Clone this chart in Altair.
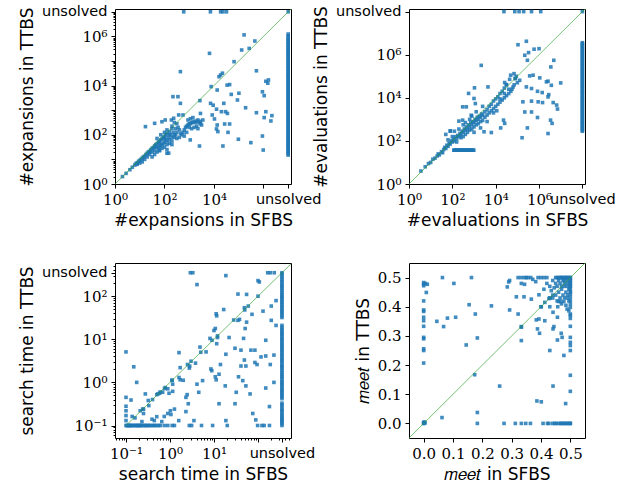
import altair as alt
import pandas as pd

BLUE = "#1f77b4"
GREEN = "#2ca02c"
SERIF = "DejaVu Serif"
SANS = "DejaVu Sans"

# ---------------- Panel 1: #expansions ----------------
EXP_UNSOLVED = 1e7
exp_top_x = [600, 7200, 18600, 23000, 32000]          # TTBS unsolved
exp_col_y = [15, 17, 19, 22, 25, 28, 32, 36, 41, 46, 52, 60, 68, 77, 88, 100, 115, 130,
             150, 170, 195, 220, 250, 290, 330, 380, 430, 490, 560, 640, 730, 830, 950,
             1100, 1250, 1400, 1600, 1850, 2100, 2400, 2750, 3100, 3600, 4100, 4700, 5400,
             6200, 7000, 8000, 9200, 10500, 12000, 14000, 16000, 18000, 21000, 24000,
             27000, 31000, 36000, 41000, 47000, 54000, 62000, 71000, 82000, 94000, 110000,
             125000, 145000, 165000, 190000, 220000, 250000, 290000, 330000, 380000,
             440000, 500000, 580000, 670000, 770000, 900000, 1050000, 1250000]  # SFBS unsolved
exp_pts = [
    (440, 37000), (6600, 205000), (165000, 1150000), (450000, 650000), (265000, 325000),
    (132000, 280000), (65000, 94000), (520000, 40000), (1250000, 15000), (1500000, 12500),
    (1600000, 17000), (18500, 27000), (16000, 23000), (22000, 32000), (7700, 9100),
    (34000, 10500), (43000, 11000), (13500, 6600), (102000, 4900), (50000, 4400),
    (910000, 5600), (1070000, 3900), (89000, 2600), (7300, 1900), (2700, 2450), (220, 3550),
    (350, 3550), (440, 1900), (9300, 1600), (12700, 1100), (25000, 1900), (29500, 870),
    (20000, 870), (35000, 740), (190000, 1260), (520000, 790), (1250000, 870), (1070000, 500),
    (2200000, 600), (2000000, 365), (43000, 275), (27000, 275), (13500, 250), (12600, 173),
    (14400, 135), (37000, 126), (10500, 440), (8500, 640), (97000, 66), (310000, 48),
    (910000, 89), (980000, 24), (23000, 35), (2600, 35), (1100, 62), (148, 18), (17, 215),
    (40, 293), (79, 340), (107, 400), (190, 400), (235, 470), (375, 640), (560, 640), (2850, 740),
    (500, 100), (560, 126), (630, 158), (710, 200), (790, 224), (890, 250), (1000, 282),
    (1120, 282), (1260, 316), (1410, 316), (1580, 355), (1780, 316), (2000, 355), (2240, 400),
    (2500, 316), (2820, 282), (3160, 250), (2000, 224), (1580, 200), (1260, 178), (1000, 200),
    (790, 126), (630, 89), (400, 79), (316, 71), (447, 112), (2240, 178), (2820, 355),
    (3550, 400), (890, 400), (1120, 447), (1410, 500),
    (2, 2), (2.8, 2.7), (4, 3.8), (5, 4.8), (6.3, 5.9), (7.1, 6.8), (7.9, 7.2), (8.9, 8.3),
    (10, 9.1), (11.2, 10), (12.6, 11.2), (14.1, 12.6), (15.8, 13.5), (17.8, 15.8), (20, 17.8),
    (22.4, 20), (25, 21.4), (28.2, 25), (31.6, 28.2), (35.5, 30.2), (40, 35.5), (44.7, 40),
    (50, 42.7), (56, 50), (63, 52.5), (71, 63), (79, 67.6), (89, 79), (100, 85), (112, 100),
    (126, 112), (158, 132), (200, 178),
    (15.8, 10), (20, 12.6), (25, 15.8), (31.6, 20), (40, 22.4), (50, 31.6), (63, 35.5),
    (79, 40), (100, 50), (126, 56), (158, 63), (200, 79), (250, 100), (100, 31.6), (126, 40),
    (79, 28.2), (158, 44.7), (200, 56), (31.6, 12.6), (40, 15.8), (50, 20), (63, 22.4),
    (316, 126), (250, 79), (158, 100), (100, 71), (63, 50), (40, 31.6), (25, 20), (12.6, 7.9),
    (10, 7.1), (7.9, 6.3), (126, 158), (100, 126), (71, 100), (50, 71), (200, 224), (250, 316),
    (316, 282), (355, 200), (400, 158), (282, 178), (71, 35.5), (89, 44.7), (112, 63),
    (141, 79), (56, 28.2), (178, 100), (224, 126), (282, 100), (200, 40), (126, 25),
    (126, 17.8), (63, 24),
]

# ---------------- Panel 2: #evaluations ----------------
EVA_UNSOLVED = 1e8
eva_top_x = [24000, 76000, 120000, 195000, 450000, 1200000]
eva_col_y = [280, 320, 370, 420, 480, 550, 630, 720, 830, 950, 1100, 1250, 1450, 1650, 1900,
             2200, 2500, 2850, 3300, 3800, 4300, 5000, 5700, 6500, 7500, 8600, 9800, 11000,
             13000, 15000, 17000, 19500, 22000, 26000, 30000, 34000, 39000, 45000, 51000,
             59000, 68000, 78000, 90000, 103000, 118000, 135000, 155000, 180000, 205000,
             235000, 270000, 310000, 360000, 410000, 470000, 540000, 620000, 710000, 820000,
             940000, 1080000, 1240000, 1420000, 1630000, 1870000, 2150000, 2470000, 2840000,
             3260000, 3600000]
eva_flat_x = [117, 125, 135, 145, 155, 165, 180, 195, 210, 225, 245, 265, 285, 310, 335, 360,
              390, 420, 460, 500, 540, 590, 640, 700, 760, 830, 900, 980]
eva_flat_y = 37
eva_pts = [
    (2150, 320000), (107000, 2900000), (260000, 4200000), (330000, 1250000), (590000, 1800000),
    (1000000, 1900000), (220000, 940000), (290000, 550000), (4800000, 550000),
    (3500000, 270000), (70000, 132000), (49000, 112000), (44000, 72000), (81000, 78000),
    (128000, 65000), (370000, 104000), (530000, 112000), (1080000, 84000), (2600000, 59000),
    (3700000, 38000), (10000000, 49000), (2200000, 55000), (260000, 32000), (450000, 27000),
    (850000, 20000), (1400000, 17500), (2800000, 14000), (2600000, 11000), (180000, 6500),
    (450000, 7000), (910000, 6500), (1450000, 6000), (4500000, 6000), (6500000, 4600),
    (7100000, 3000), (220000, 2200), (450000, 2200), (850000, 1220), (3400000, 920),
    (4000000, 650), (2600000, 220), (290000, 400), (165000, 140), (17000, 400), (26000, 650),
    (23000, 920), (2900, 265), (6300, 245), (1050, 29000), (560, 16000), (1000, 9300),
    (1150, 5400), (300, 3800), (440, 3800), (200, 830), (300, 920), (82, 295), (125, 280),
    (740, 1550), (4400, 32000), (26000, 51000), (31000, 41000),
    (3.55, 4), (5.6, 6.3), (7.9, 8.9), (10, 10), (12.6, 14.1), (15.8, 15.8), (20, 20),
    (22.4, 25), (25, 22.4), (31.6, 31.6), (35.5, 28.2), (40, 40), (44.7, 50), (50, 44.7),
    (56, 63), (63, 56), (71, 79), (79, 71), (89, 100), (100, 89), (112, 126), (126, 100),
    (141, 158), (158, 126), (178, 178), (200, 158), (224, 224), (250, 200), (282, 282),
    (316, 250), (355, 355), (400, 316), (447, 447), (500, 355), (560, 560), (630, 447),
    (710, 710), (790, 560), (890, 790), (1000, 710), (1120, 1000), (1260, 890), (1410, 1260),
    (1580, 1000), (1780, 1410), (2000, 1260), (2240, 1780), (2500, 1580), (3160, 2240),
    (4000, 2820), (5000, 4000), (6300, 5000), (7900, 7100), (10000, 8900), (12600, 11200),
    (15800, 15800), (20000, 20000), (25000, 28200), (31600, 40000),
    (158, 89), (250, 141), (400, 200), (630, 316), (1000, 447), (1580, 630), (2500, 890),
    (316, 158), (500, 250), (790, 355), (1260, 560), (2000, 790), (3160, 1260), (4000, 1580),
    (5000, 2000), (6300, 2500), (7900, 3160), (10000, 4000), (12600, 5000), (15800, 6300),
    (20000, 7900), (25000, 10000), (31600, 12600), (40000, 15800), (50000, 20000),
    (56000, 25000), (63000, 31600), (71000, 40000), (15800, 8900), (25000, 15800),
    (40000, 25000), (2000, 400), (4000, 790), (7900, 2000), (11200, 2500), (1000, 250),
    (100, 158), (200, 355), (400, 710), (790, 1410), (1260, 2240), (2500, 4000), (63, 112),
    (316, 560), (630, 1000), (79, 282), (50, 200), (79000, 79000), (100000, 50000),
    (89000, 100000),
]

# ---------------- Panel 3: search time ----------------
TIME_UNSOLVED = 350
time_top_x = [2.9, 3.3, 166, 190, 234]
time_col_y = [0.1, 0.11, 0.12, 0.13, 0.14, 0.15, 0.165, 0.18, 0.2, 0.22, 0.24, 0.27, 0.3,
              0.33, 0.42, 0.46, 0.5, 0.55, 0.6, 0.66, 0.72, 0.8, 0.88, 0.96, 1.05, 1.15, 1.3,
              1.4, 1.55, 1.7, 1.9, 2.1, 2.3, 2.5, 2.8, 3.1, 3.4, 3.7, 4.1, 4.5, 5.0, 5.5, 6.0,
              6.6, 7.3, 8.0, 8.8, 9.7, 10.6, 11.7, 13, 14, 15.5, 17, 19, 21, 32, 35, 39, 43,
              47, 52, 57, 63, 70, 77, 85, 93, 100, 110, 122, 135, 150, 165, 180, 200, 220, 245,
              270, 300, 330]
time_bottom_x = [0.1, 0.105, 0.11, 0.115, 0.12, 0.125, 0.13, 0.14, 0.15, 0.16, 0.17, 0.18,
                 0.19, 0.2, 0.21, 0.22, 0.24, 0.26, 0.28, 0.3, 0.32, 0.35, 0.38, 0.42, 0.45,
                 0.5, 0.55, 0.6, 0.74, 0.89, 1.12, 1.26, 2.75, 3.1, 5.2, 9.3, 20, 98, 123, 138,
                 182]
time_bottom_y = 0.1
time_pts = [
    (4.1, 186), (18.6, 300), (100, 230), (107, 214), (35, 112), (55, 110), (257, 79), (49, 54),
    (60, 59), (73, 38), (130, 45), (200, 59), (16.6, 49), (11.2, 39), (11.5, 35), (35, 27.5),
    (38, 29), (55, 25), (200, 27.5), (257, 21), (10.7, 17.8), (10, 16), (51, 17.8), (8.1, 10.5),
    (12, 11), (22, 11), (47, 10.5), (150, 9.5), (11.5, 7.9), (4.8, 6.6), (0.1, 5.1), (1.6, 4.9),
    (6.6, 5.1), (18.6, 4.5), (30, 6.2), (41, 5.6), (69, 5.6), (85, 5.6), (150, 4.1), (230, 4.3),
    (117, 3.9), (49, 3.3), (85, 2.9), (95, 2.6), (190, 2.6), (41, 2.4), (53, 2.4), (14, 2.6),
    (3.8, 2.8), (2.8, 2.4), (2.75, 2.15), (1.7, 2.2), (0.15, 2.3), (8.5, 2.05), (8.9, 1.87),
    (13, 1.55), (10.7, 1.35), (11.2, 1.15), (36, 1.35), (45, 1.1), (53, 0.83), (230, 1.0),
    (150, 0.74), (32, 0.59), (66, 0.54), (18, 0.83), (5.5, 1.1), (4.5, 0.59), (4.1, 0.91),
    (1.6, 1.3), (1.7, 1.15), (2.0, 1.12), (1.12, 1.12), (1.15, 0.91), (0.89, 0.71),
    (1.15, 0.62), (0.95, 0.56), (0.78, 0.76), (0.68, 0.59), (0.58, 0.56), (0.53, 0.54),
    (0.275, 0.54), (0.13, 0.39), (0.175, 1.0), (0.1, 0.45), (0.1, 0.28), (0.1, 0.22),
    (0.1, 0.17), (0.1, 0.13), (0.138, 0.162), (0.21, 0.22), (0.24, 0.24), (0.25, 0.19),
    (0.23, 0.123), (0.32, 0.38), (0.33, 0.29), (0.39, 0.14), (0.44, 0.13), (0.5, 0.16),
    (0.65, 0.123), (0.74, 0.162), (0.89, 0.19), (1.05, 0.18), (1.02, 0.22), (1.26, 0.24),
    (1.58, 0.13), (2.3, 0.21), (2.6, 0.32), (2.3, 0.45), (2.45, 0.52), (3.5, 0.13), (13, 0.32),
    (30, 0.32), (76, 0.19), (89, 0.135), (182, 0.275), (18.6, 0.13),
    (0.16, 0.15), (0.25, 0.24), (0.4, 0.4), (0.5, 0.52), (0.6, 0.6), (0.75, 0.72), (1.1, 1.12),
    (2.5, 2.6), (3.0, 3.1), (5.0, 5.0), (9.0, 9.5), (12, 12), (28, 28), (50, 48), (100, 100),
]

# ---------------- Panel 4: meet ----------------
meet_left_y = [0.483, 0.477, 0.472, 0.42, 0.389, 0.384, 0.364, 0.352, 0.333, 0.295, 0.29,
               0.256, 0.25, 0.207, 0.0, 0.003]
meet_bottom_x = [0.183, 0.274, 0.3125, 0.333, 0.348, 0.364, 0.407, 0.422, 0.427, 0.447,
                 0.452, 0.46, 0.467, 0.475, 0.481, 0.489, 0.5, 0.495, 0.485, 0.47, 0.44]
meet_top_x = [0.322, 0.333, 0.344, 0.35, 0.356, 0.365, 0.39, 0.40, 0.41, 0.42, 0.45, 0.455,
              0.46, 0.465, 0.47, 0.475, 0.48, 0.485, 0.49, 0.495, 0.5]
meet_right_y = [0.295, 0.278, 0.267, 0.25, 0.333, 0.375, 0.165, 0.11, 0.398, 0.409, 0.42,
                0.432, 0.443, 0.455, 0.466, 0.477, 0.489, 0.37, 0.36, 0.0]
meet_pts = [
    (0.006, 0.48), (0.0125, 0.477), (0.009, 0.449), (0.002, 0.005), (0.005, 0.002),
    (0.064, 0.5), (0.103, 0.48), (0.163, 0.5), (0.045, 0.35), (0.068, 0.332), (0.081, 0.361),
    (0.109, 0.364), (0.155, 0.407), (0.176, 0.375), (0.231, 0.403), (0.145, 0.269),
    (0.183, 0.293), (0.174, 0.167), (0.259, 0.128), (0.0625, 0.02), (0.183, 0.0375),
    (0.285, 0.468), (0.293, 0.49), (0.29, 0.485), (0.293, 0.389), (0.316, 0.434),
    (0.322, 0.375), (0.333, 0.332), (0.333, 0.284), (0.342, 0.434), (0.367, 0.426),
    (0.372, 0.494), (0.382, 0.486), (0.333, 0.48), (0.344, 0.477),
    (0.388, 0.324), (0.395, 0.309), (0.384, 0.355), (0.413, 0.352), (0.393, 0.358),
    (0.401, 0.4), (0.393, 0.441), (0.413, 0.415), (0.43, 0.4), (0.427, 0.428), (0.441, 0.381),
    (0.444, 0.332), (0.441, 0.324), (0.456, 0.364), (0.469, 0.309), (0.472, 0.295),
    (0.456, 0.286), (0.43, 0.25), (0.478, 0.233), (0.441, 0.128), (0.484, 0.068),
    (0.386, 0.077), (0.401, 0.074),
    (0.45, 0.44), (0.46, 0.45), (0.47, 0.46), (0.48, 0.47), (0.49, 0.48), (0.5, 0.49),
    (0.455, 0.47), (0.465, 0.48), (0.475, 0.49), (0.485, 0.5), (0.46, 0.49), (0.47, 0.5),
    (0.48, 0.49), (0.49, 0.47), (0.495, 0.46), (0.485, 0.45), (0.475, 0.44), (0.465, 0.43),
    (0.455, 0.42), (0.46, 0.418), (0.467, 0.418), (0.478, 0.418), (0.457, 0.4), (0.489, 0.392),
    (0.495, 0.386), (0.47, 0.47), (0.48, 0.48), (0.49, 0.49), (0.5, 0.5), (0.45, 0.48),
    (0.44, 0.49), (0.43, 0.47), (0.42, 0.48), (0.41, 0.46), (0.435, 0.455), (0.445, 0.465),
    (0.44, 0.43), (0.43, 0.43), (0.48, 0.43), (0.49, 0.44), (0.5, 0.45), (0.5, 0.47),
    (0.5, 0.48), (0.47, 0.41), (0.485, 0.405), (0.495, 0.42), (0.49, 0.43),
    (0.333, 0.33), (0.4, 0.4), (0.43, 0.43), (0.44, 0.44), (0.0, 0.0),
]

# ---------------- helpers ----------------
def frame(pairs, top_x=(), top_y=None, col_y=(), col_x=None, bottom_x=(), bottom_y=None,
          corner=None):
    rows = [{"x": a, "y": b} for a, b in pairs]
    rows += [{"x": a, "y": top_y} for a in top_x]
    rows += [{"x": col_x, "y": b} for b in col_y]
    rows += [{"x": a, "y": bottom_y} for a in bottom_x]
    if corner is not None:
        rows.append({"x": corner, "y": corner})
    return pd.DataFrame(rows)


def label_expr(mapping):
    parts = [f"datum.value == {v!r} ? '{s}'" for v, s in mapping.items()]
    return " : ".join(parts) + " : ''"


def make_axis(title, values, labels, major, unsolved=None):
    kw = dict(
        title=title,
        values=values,
        grid=False,
        labelOverlap=False,
        labelFlush=False,
        labelExpr=label_expr(labels),
        tickSize={"condition": {"test": f"indexof({list(major)!r}, datum.value) < 0",
                                "value": 2}, "value": 4},
    )
    if unsolved is not None:
        kw["labelFont"] = {"condition": {"test": f"datum.value == {unsolved!r}", "value": SANS},
                           "value": SERIF}
        kw["labelFontSize"] = {"condition": {"test": f"datum.value == {unsolved!r}",
                                             "value": 14.5}, "value": 15}
    return alt.Axis(**kw)


def minors(lo_exp, hi_exp, lo, hi):
    return [m * 10.0 ** k for k in range(lo_exp, hi_exp + 1) for m in range(2, 10)
            if lo <= m * 10.0 ** k <= hi]


def panel(df, xscale, yscale, xaxis, yaxis, line_lo, line_hi):
    pts = alt.Chart(df).mark_square(size=13, color=BLUE, opacity=0.85).encode(
        x=alt.X("x:Q", scale=xscale, axis=xaxis),
        y=alt.Y("y:Q", scale=yscale, axis=yaxis),
    )
    line = alt.Chart(pd.DataFrame({"x": [line_lo, line_hi], "y": [line_lo, line_hi]})).mark_line(
        color=GREEN, strokeWidth=1, opacity=0.65, clip=True
    ).encode(
        x=alt.X("x:Q", scale=xscale, axis=xaxis),
        y=alt.Y("y:Q", scale=yscale, axis=yaxis),
    )
    return alt.layer(pts, line).properties(width=176, height=175)


# Panel 1
d1 = frame(exp_pts, top_x=exp_top_x, top_y=EXP_UNSOLVED, col_y=exp_col_y, col_x=EXP_UNSOLVED,
           corner=EXP_UNSOLVED)
dom1 = [1, 1.3e7]
x1_major = [1, 100, 1e4, 1e6, 1e7]
y1_major = [1, 10, 100, 1e3, 1e4, 1e5, 1e6, 1e7]
p1 = panel(
    d1,
    alt.Scale(type="log", domain=dom1, nice=False),
    alt.Scale(type="log", domain=dom1, nice=False),
    make_axis("#expansions in SFBS", x1_major,
              {1: "10⁰", 100: "10²", 1e4: "10⁴", 1e7: "unsolved"}, x1_major, EXP_UNSOLVED),
    make_axis("#expansions in TTBS", y1_major + minors(0, 6, 1, 1.3e7),
              {1: "10⁰", 100: "10²", 1e4: "10⁴", 1e6: "10⁶", 1e7: "unsolved"}, y1_major,
              EXP_UNSOLVED),
    1, 1.3e7,
)

# Panel 2
d2 = frame(eva_pts, top_x=eva_top_x, top_y=EVA_UNSOLVED, col_y=eva_col_y, col_x=EVA_UNSOLVED,
           bottom_x=eva_flat_x, bottom_y=eva_flat_y, corner=EVA_UNSOLVED)
dom2 = [1, 1.32e8]
m2 = [1, 100, 1e4, 1e6, 1e8]
lab2 = {1: "10⁰", 100: "10²", 1e4: "10⁴", 1e6: "10⁶", 1e8: "unsolved"}
p2 = panel(
    d2,
    alt.Scale(type="log", domain=dom2, nice=False),
    alt.Scale(type="log", domain=dom2, nice=False),
    make_axis("#evaluations in SFBS", m2, lab2, m2, EVA_UNSOLVED),
    make_axis("#evaluations in TTBS", m2, lab2, m2, EVA_UNSOLVED),
    1, 1.32e8,
)

# Panel 3
d3 = frame(time_pts, top_x=time_top_x, top_y=TIME_UNSOLVED, col_y=time_col_y,
           col_x=TIME_UNSOLVED, bottom_x=time_bottom_x, bottom_y=time_bottom_y,
           corner=TIME_UNSOLVED)
domx3 = [0.0562, 562]
domy3 = [0.0513, 589]
m3 = [0.1, 1, 10, 100, TIME_UNSOLVED]
p3 = panel(
    d3,
    alt.Scale(type="log", domain=domx3, nice=False),
    alt.Scale(type="log", domain=domy3, nice=False),
    make_axis("search time in SFBS", m3 + minors(-2, 2, domx3[0], domx3[1]),
              {0.1: "10⁻¹", 1: "10⁰", 10: "10¹", TIME_UNSOLVED: "unsolved"}, m3, TIME_UNSOLVED),
    make_axis("search time in TTBS", m3 + minors(-2, 2, domy3[0], domy3[1]),
              {0.1: "10⁻¹", 1: "10⁰", 10: "10¹", 100: "10²", TIME_UNSOLVED: "unsolved"}, m3,
              TIME_UNSOLVED),
    0.1, 562,
)

# Panel 4
d4 = frame(meet_pts, top_x=meet_top_x, top_y=0.5, col_y=meet_left_y, col_x=0.0,
           bottom_x=meet_bottom_x, bottom_y=0.0)
d4 = pd.concat([d4, pd.DataFrame({"x": [0.5] * len(meet_right_y), "y": meet_right_y})])
dom4 = [-0.05, 0.55]
ticks4 = [0.0, 0.1, 0.2, 0.3, 0.4, 0.5]
ax4 = dict(values=ticks4, format=".1f", labelFont=SERIF, labelFontSize=15, tickSize=4,
           grid=False, labelOverlap=False, labelFlush=False)
p4 = panel(
    d4,
    alt.Scale(domain=dom4, nice=False, zero=False),
    alt.Scale(domain=dom4, nice=False, zero=False),
    alt.Axis(title="𝑚𝑒𝑒𝑡 in SFBS", **ax4),
    alt.Axis(title="𝑚𝑒𝑒𝑡 in TTBS", **ax4),
    -0.05, 0.55,
)

chart = alt.concat(
    p1, p2, p3, p4, columns=2, spacing={"row": 79, "column": 118}, bounds="flush",
    padding={"left": 17, "top": 3, "right": 5, "bottom": 5},
).configure_view(
    stroke="black", strokeWidth=1
).configure_axis(
    grid=False, domain=False, ticks=True, tickColor="black", tickWidth=1,
    labelColor="black", labelFont=SERIF, labelFontSize=15,
    titleColor="black", titleFont=SANS, titleFontSize=17,
    titleFontWeight="normal", labelOverlap=False, labelFlush=False, labelPadding=4,
    titlePadding=5,
)

chart.save("out.html", embed_options={"renderer": "svg", "actions": False})
